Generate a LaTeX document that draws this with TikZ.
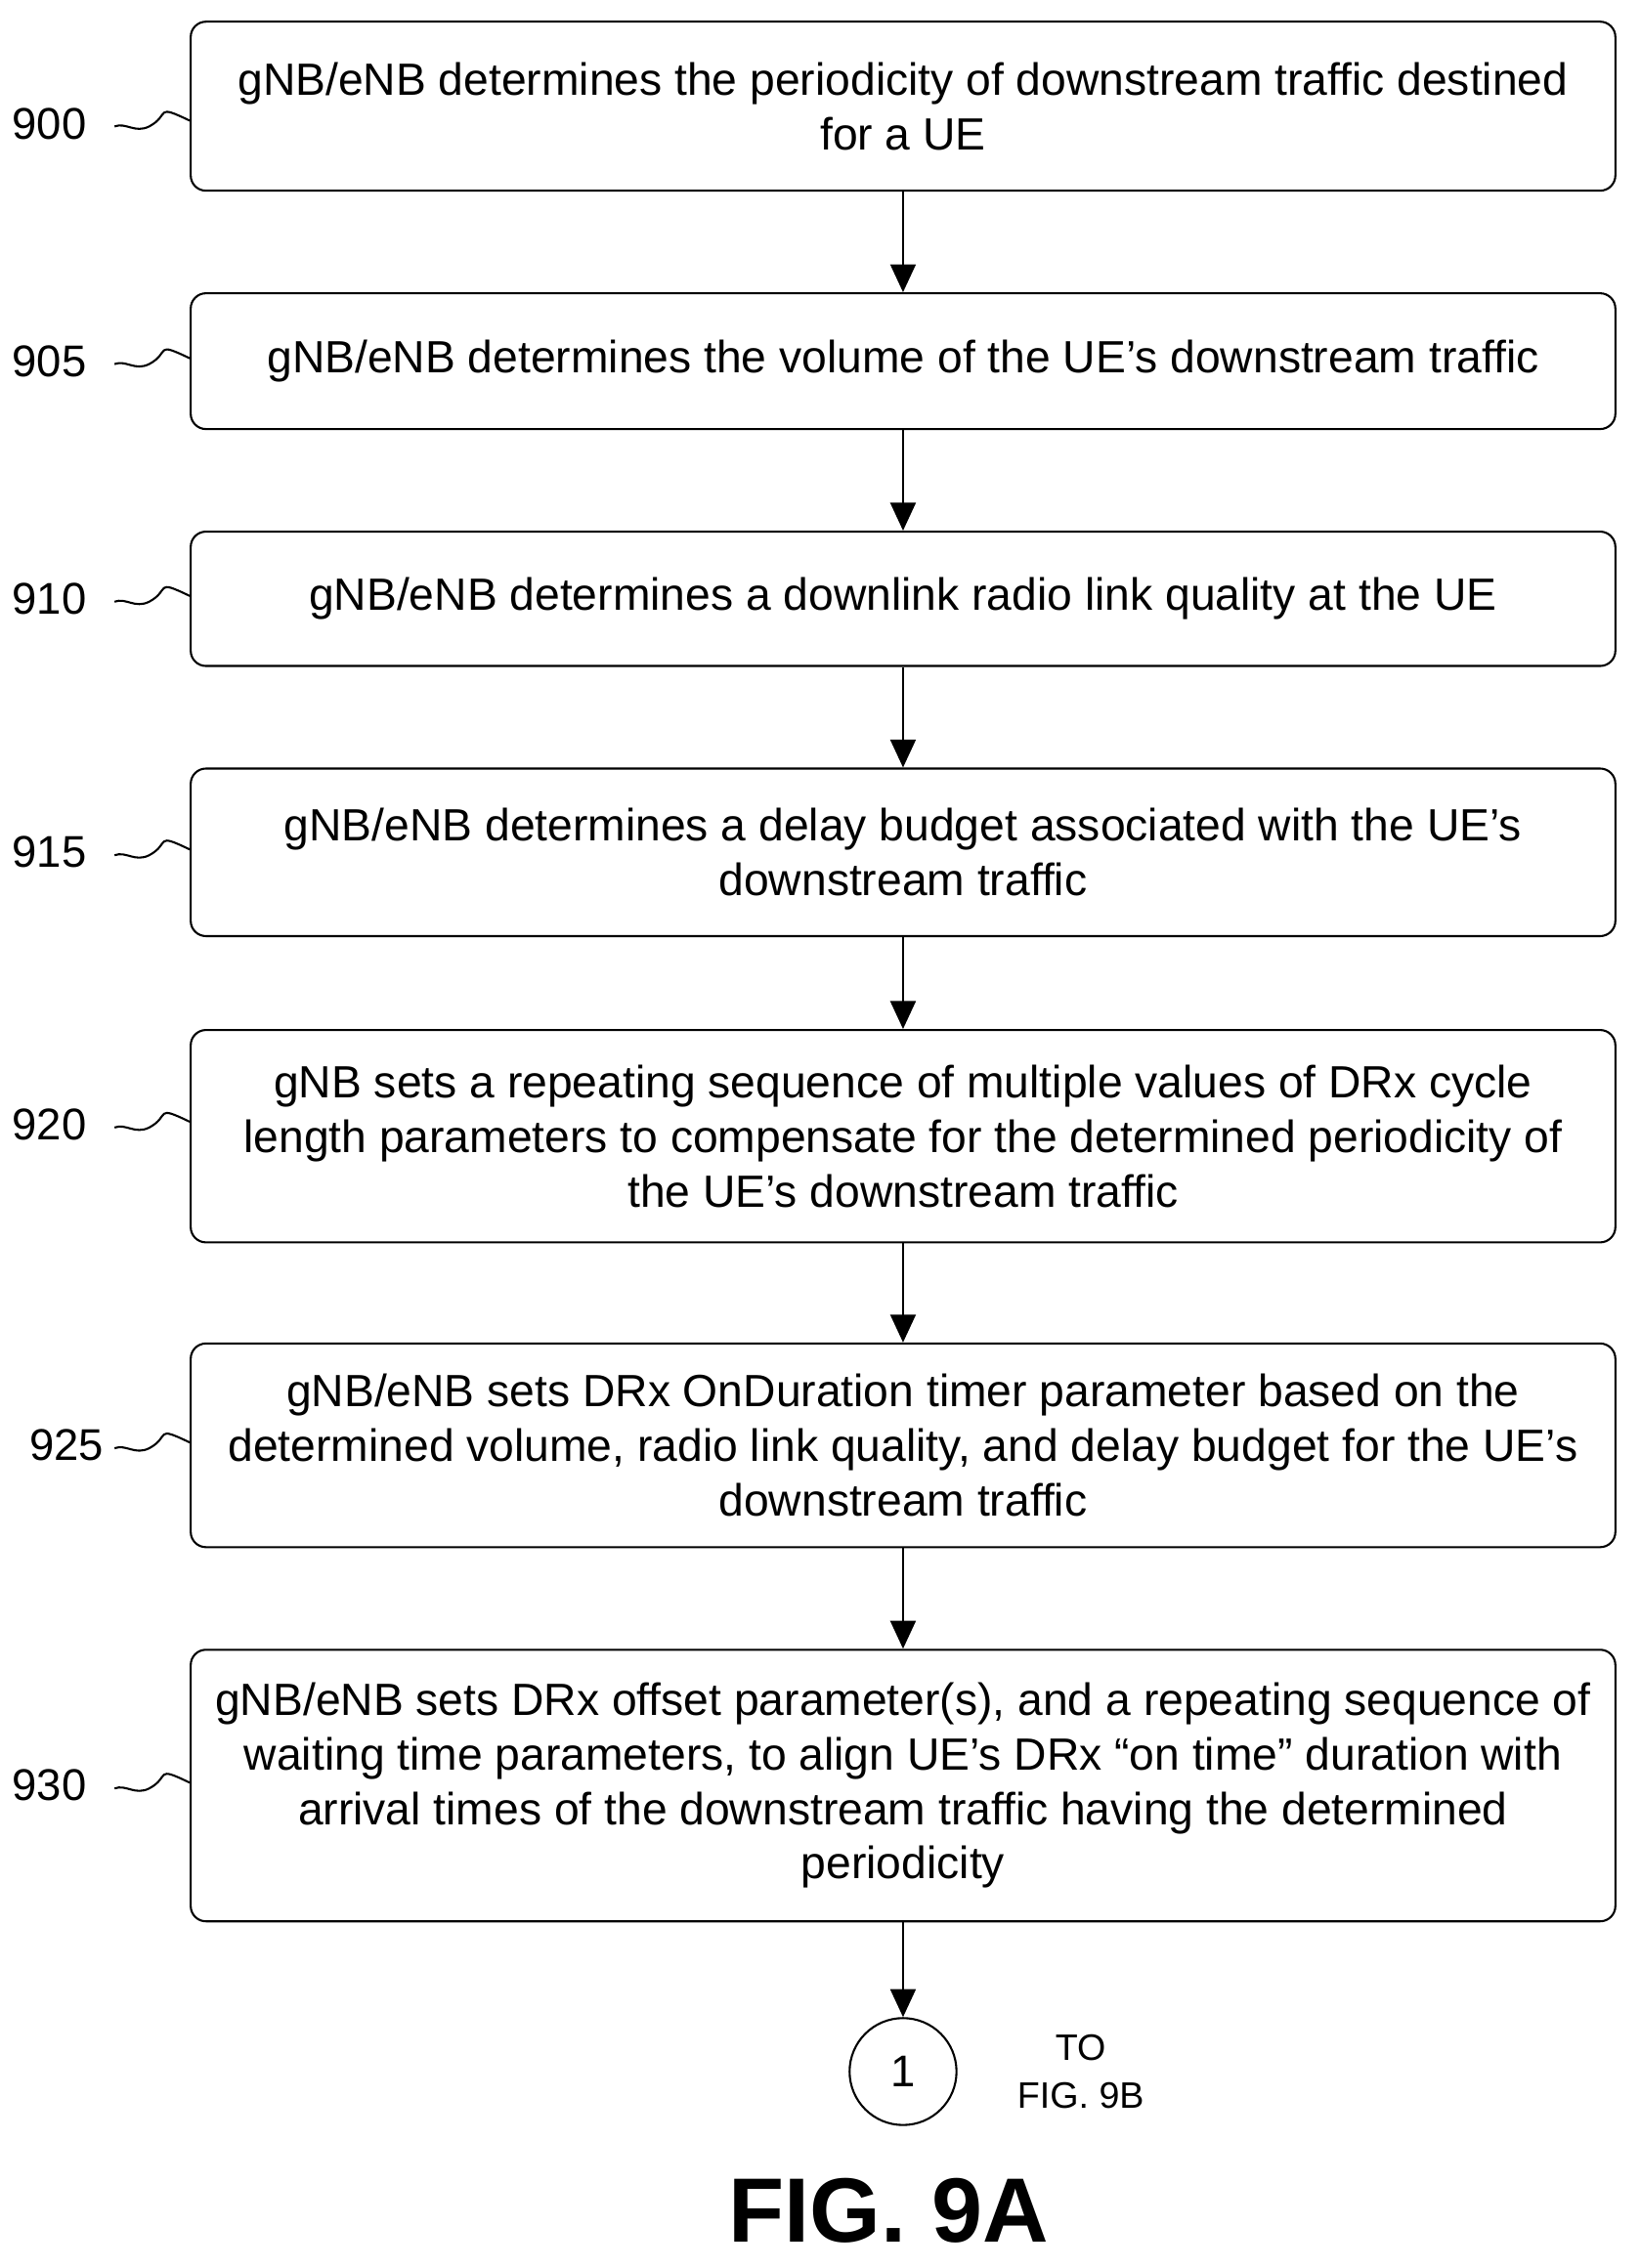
\documentclass[tikz,border=0pt]{standalone}
\usepackage{fontspec}
\setmainfont{Liberation Sans}
\usetikzlibrary{arrows.meta,positioning}
\begin{document}
\begin{tikzpicture}[x=0.02cm,y=-0.02cm,
    stepbox/.style={draw,thick,rounded corners=6pt,minimum width=986*0.02cm,align=center,
        font=\fontsize{17.8}{21.5}\selectfont,inner sep=0pt},
    flow/.style={draw,thick,-{Triangle[length=11pt,width=10pt]}},
    tag/.style={font=\fontsize{17.5}{20}\selectfont,anchor=east},
    wig/.style={draw,thick}]
  \useasboundingbox (0,0) rectangle (1135,1570);
  \foreach \name/\top/\bot/\txt in {
      s900/15/132/{gNB/eNB determines the periodicity of downstream traffic destined\\for a UE},
      s905/203/297/{gNB/eNB determines the volume of the UE’s downstream traffic},
      s910/368/461/{gNB/eNB determines a downlink radio link quality at the UE},
      s915/532/648/{gNB/eNB determines a delay budget associated with the UE’s\\downstream traffic},
      s920/713/860/{gNB sets a repeating sequence of multiple values of DRx cycle\\length parameters to compensate for the determined periodicity of\\the UE’s downstream traffic},
      s925/930/1071/{gNB/eNB sets DRx OnDuration timer parameter based on the\\determined volume, radio link quality, and delay budget for the UE’s\\downstream traffic},
      s930/1142/1330/{gNB/eNB sets DRx offset parameter(s), and a repeating sequence of\\waiting time parameters, to align UE’s DRx “on time” duration with\\arrival times of the downstream traffic having the determined\\periodicity}}
    \node[stepbox,minimum height={(\bot-\top)*0.02cm}] (\name) at (625,{(\top+\bot)/2}) {\txt};
  % step numbers
  \foreach \name/\lbl/\xl/\dy in {s900/900/66/12,s905/905/66/0,s910/910/66/0,s915/915/66/0,s920/920/66/-8,s925/925/78/0,s930/930/66/0} {
    \node[tag] (l\lbl) at ([yshift=-\dy*0.02cm]\xl,0 |- \name.west) {\lbl};
    \draw[wig] ([yshift=-\dy*0.02cm]\name.west) ++(0,-2) .. controls +(-25,-12) and +(15,-8) .. ++(-28,4)
       .. controls +(-10,5) and +(8,-3) .. ++(-24,0);
  }
  \node[draw,thick,circle,minimum size=74*0.02cm,font=\fontsize{17.5}{20}\selectfont] (c1) at (625,1434) {1};
  \node[align=center,font=\fontsize{14.5}{19}\selectfont,right=20pt of c1] (to) {TO\\FIG. 9B};
  \node[font=\fontsize{36}{40}\bfseries] (fig) at (615,1530) {FIG. 9A};
  \foreach \a/\b in {s900/s905,s905/s910,s910/s915,s915/s920,s920/s925,s925/s930,s930/c1}
    \path[flow] (\a) -- (\b);
\end{tikzpicture}
\end{document}
